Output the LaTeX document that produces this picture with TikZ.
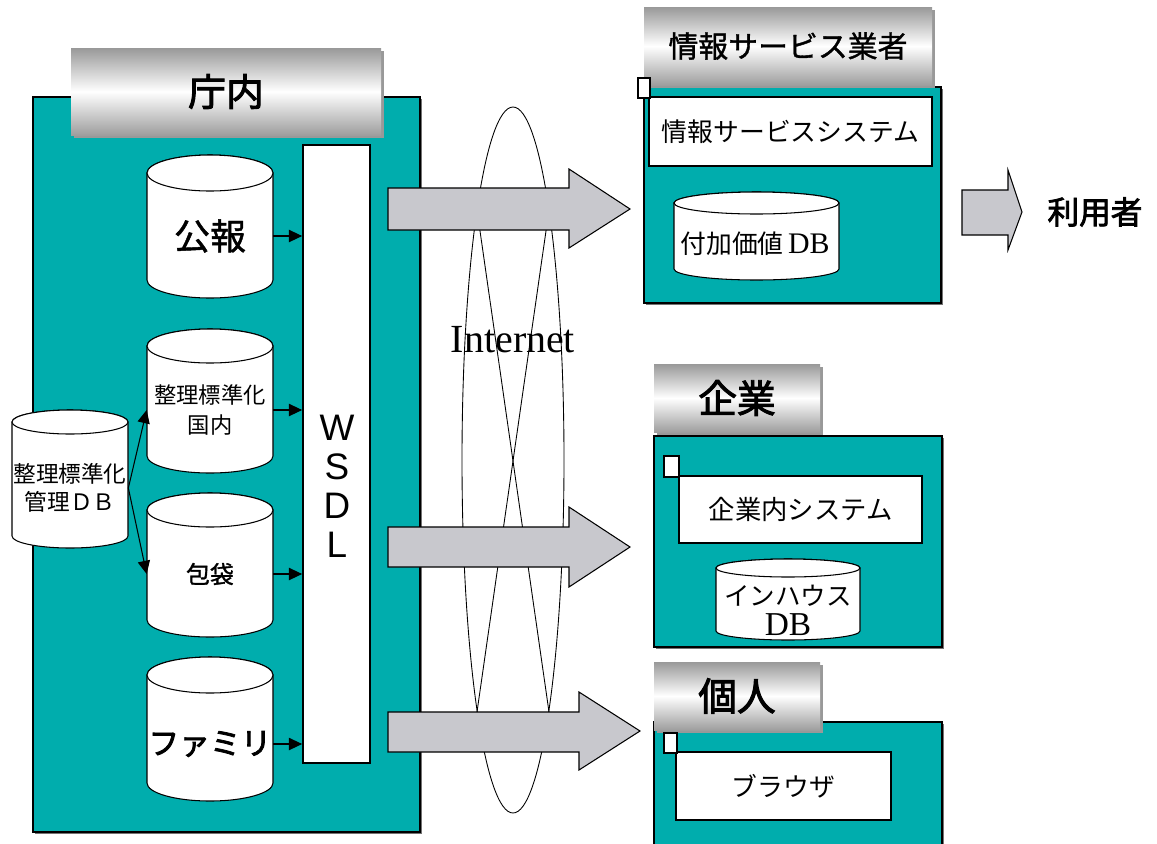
\documentclass[tikz,border=0pt]{standalone}
\usepackage{fontspec}
\setmainfont{Liberation Serif}
\setsansfont{Liberation Sans}
\newfontfamily\jp{Noto Sans CJK JP}
\newfontfamily\jpb[FakeBold=2.5]{Noto Sans CJK JP}
\newfontfamily\jpm[FakeBold=1.2]{Noto Sans CJK JP}
\usetikzlibrary{fit,shadows,arrows.meta}
\definecolor{tealfill}{RGB}{0,173,173}
\definecolor{arrgray}{RGB}{200,200,205}
\newcommand\dbcyl[5]{% x1,x2,ytop,ybot,ry
  \pgfmathsetmacro\cylrx{(#2-#1)/2}%
  \pgfmathsetmacro\cylcx{(#1+#2)/2}%
  \path[cylst] (#1,#3+#5) -- (#1,#4-#5)
    arc[start angle=180,end angle=360,x radius=\cylrx*0.02cm,y radius=#5*0.02cm]
    -- (#2,#3+#5)
    arc[start angle=0,end angle=180,x radius=\cylrx*0.02cm,y radius=#5*0.02cm] -- cycle;
  \draw[cylst] (\cylcx,#3+#5) ellipse[x radius=\cylrx*0.02cm,y radius=#5*0.02cm];
}
\begin{document}
\begin{tikzpicture}[x=0.02cm,y=-0.02cm,
  tealbox/.style={draw=black,line width=0.7pt,fill=tealfill,inner sep=0pt,
    drop shadow={shadow xshift=0.035cm,shadow yshift=-0.035cm,fill=black!55,opacity=1}},
  titlebar/.style={inner sep=0pt,top color=black!40,bottom color=black!38,middle color=white,
    drop shadow={shadow xshift=0.06cm,shadow yshift=-0.06cm,fill=black!40,opacity=1}},
  whitebox/.style={draw=black,line width=1.2pt,fill=white,inner sep=0pt},
  wsdlbox/.style={draw=black,line width=1pt,fill=white,inner sep=0pt},
  cylst/.style={draw=black,line width=0.6pt,fill=white},
  cyltext/.style={inner sep=0pt,align=center},
  lbl/.style={inner sep=0pt,align=center},
  smallsq/.style={draw=black,line width=0.8pt,fill=white,inner sep=0pt},
  arr/.style={-{Triangle[length=7.5pt,width=7pt]},line width=0.6pt},
  bigarrow/.style={draw=black,line width=0.6pt,fill=arrgray},
  inetline/.style={draw=black,line width=0.5pt},
  tbig/.style={lbl,font=\jpb\fontsize{22}{24}\selectfont},
  tmid/.style={lbl,font=\jp\fontsize{14.7}{17}\selectfont},
]
\useasboundingbox (0,0) rectangle (1157,843);

% ---- group boxes ----
\node[tealbox,fit={(33,97) (420,832)}] (chonai) {};
\node[tealbox,fit={(644,87) (941,303)}] (joho) {};
\node[tealbox,fit={(654,436) (942,647)}] (kigyo) {};
\node[tealbox,fit={(654,722) (942,850)}] (kojin) {};

% ---- title bars ----
\node[titlebar,fit={(71,48) (381,135)}] (chonaiT) {};
\node[lbl,font=\jpb\fontsize{21.5}{24}\selectfont] (chonaiL) at (chonaiT.center) {庁内};
\node[titlebar,fit={(644,7) (932,85)}] (johoT) {};
\node[lbl,font=\jpm\fontsize{17}{20}\selectfont] (johoL) at (johoT.center) {情報サービス業者};
\node[titlebar,fit={(654,364) (820,432)}] (kigyoT) {};
\node[tbig] (kigyoL) at (kigyoT.center) {企業};
\node[titlebar,fit={(654,662) (820,730)}] (kojinT) {};
\node[tbig] (kojinL) at (kojinT.center) {個人};

% ---- Internet ----
\draw[inetline] (513,460) ellipse[x radius=51,y radius=353];
\draw[inetline] (477,210) -- (549,712);
\draw[inetline] (549,210) -- (477,712);
\node[font=\fontsize{22.7}{26}\selectfont,inner sep=0pt] (inet) at (513,340) {Internet};

% ---- big arrows ----
\draw[bigarrow] (388,188) -- (569,188) -- (569,169) -- (630,209) -- (569,248) -- (569,230) -- (388,230) -- cycle;
\draw[bigarrow] (388,527) -- (569,527) -- (569,507) -- (630,547) -- (569,587) -- (569,567) -- (388,567) -- cycle;
\draw[bigarrow] (388,712) -- (579,712) -- (579,692) -- (640,731) -- (579,770) -- (579,752) -- (388,752) -- cycle;
\draw[bigarrow] (962,190) -- (1008,190) -- (1008,170) -- (1022,212) -- (1008,250) -- (1008,235) -- (962,235) -- cycle;
\node[lbl,font=\jpb\fontsize{18}{20}\selectfont] (riyosha) at (1095,212) {利用者};

% ---- WSDL ----
\node[wsdlbox,fit={(303,145) (370,763)}] (wsdl) {};
\node[font=\sffamily\fontsize{21}{22.2}\selectfont,align=center,inner sep=0pt] (wsdlT) at (337,486) {W\\S\\D\\L};

% ---- cylinders (left) ----
\dbcyl{147}{273}{155}{298}{18}
\node[cyltext,minimum width=2.52cm,font=\jpm\fontsize{20.5}{22}\selectfont] (koho) at (210,236) {公報};
\dbcyl{147}{273}{329}{473}{17}
\node[cyltext,minimum width=2.52cm,font=\jp\fontsize{12.7}{17}\selectfont] (kokunai) at (210,410) {整理標準化\\国内};
\dbcyl{147}{273}{493}{637}{17}
\node[cyltext,minimum width=2.52cm,font=\jpm\fontsize{13.6}{16}\selectfont] (hotai) at (210,574) {包袋};
\dbcyl{147}{273}{657}{801}{18}
\node[cyltext,minimum width=2.52cm,font=\jpb\fontsize{17.5}{19}\selectfont] (family) at (210,744) {ファミリ};
\dbcyl{12}{128}{410}{548}{12}
\node[cyltext,minimum width=2.32cm,font=\jp\fontsize{12.9}{16}\selectfont] (kanri) at (70,488) {整理標準化\\管理ＤＢ};

% ---- small connectors ----
\draw[arr] (koho.east) -- (koho.east -| wsdl.west);
\draw[arr] (kokunai.east) -- (kokunai.east -| wsdl.west);
\draw[arr] (hotai.east) -- (hotai.east -| wsdl.west);
\draw[arr] (family.east) -- (family.east -| wsdl.west);
\draw[arr] (kanri.east) -- (kokunai.west);
\draw[arr] (kanri.east) -- (hotai.west);

% ---- right side contents ----
\node[whitebox,fit={(649,97) (932,166)}] (johoSys) {};
\node[tmid] (johoSysL) at (johoSys.center) {情報サービスシステム};
\dbcyl{674}{839}{192}{280}{11}
\node[cyltext,font=\jp\fontsize{14.7}{17}\selectfont] (fuka) at (755,244) {付加価値\,{\rmfamily\fontsize{17}{18}\selectfont DB}};

\node[whitebox,fit={(679,476) (922,543)}] (kigyoSys) {};
\node[lbl,font=\jp\fontsize{15}{17}\selectfont] (kigyoSysL) at (kigyoSys.center) {企業内システム};
\dbcyl{716}{860}{559}{640}{9}
\node[cyltext,font=\jp\fontsize{14.5}{17}\selectfont] (inhouse) at (788,610) {インハウス\\{\rmfamily\fontsize{19}{17}\selectfont DB}};

\node[whitebox,fit={(676,752) (891,820)}] (browser) {};
\node[tmid] (browserL) at (browser.center) {ブラウザ};

% ---- small squares ----
\node[smallsq,fit={(638,78) (650,98)}] (sq1) {};
\node[smallsq,fit={(664,456) (679,477)}] (sq2) {};
\node[smallsq,fit={(664,733) (677,753)}] (sq3) {};
\end{tikzpicture}
\end{document}
